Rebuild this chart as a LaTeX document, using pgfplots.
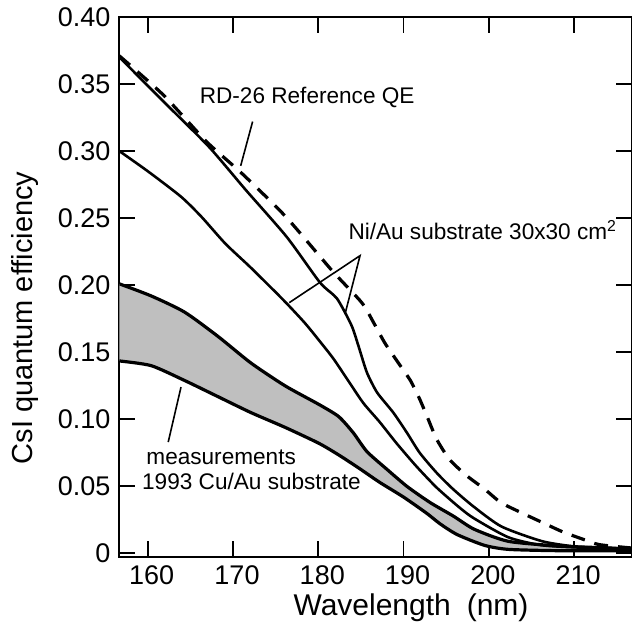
\documentclass[border=0pt]{standalone}
\usepackage{pgfplots}
\pgfplotsset{compat=1.18}
\usepgfplotslibrary{fillbetween}
\usepackage{fontspec}
\setmainfont{Liberation Sans}

\begin{document}
\begin{tikzpicture}
\begin{axis}[
    name=ax,
    scale only axis,
    width=256.4pt, height=270.3pt,
    xmin=156.67, xmax=216.8,
    ymin=-0.003, ymax=0.40,
    axis line style={line width=1pt},
    tick align=inside,
    major tick length=8pt,
    every tick/.style={black, line width=0.9pt},
    xtick={160,170,180,190,200,210},
    ytick={0,0.05,0.10,0.15,0.20,0.25,0.30,0.35,0.40},
    yticklabels={0,0.05,0.10,0.15,0.20,0.25,0.30,0.35,0.40},
    /pgf/number format/assume math mode=true,
    tick label style={font=\fontsize{13.5}{15}\selectfont},
    xticklabel style={yshift=-0.5pt, xshift=2pt},
    yticklabel style={xshift=-1pt},
    xlabel={Wavelength\hspace{8pt}(nm)},
    ylabel={CsI quantum efficiency},
    xlabel style={font=\fontsize{15}{17}\selectfont, at={(axis description cs:0.569,-0.093)}, anchor=center},
    ylabel style={font=\fontsize{14.5}{17}\selectfont, at={(axis description cs:-0.184,0.443)}, anchor=center},
]

% 1993 Cu/Au measurements, upper and lower bound
\addplot[name path=cuhi, black, line width=1.6pt, smooth, tension=0.4] coordinates {
    (156.67,0.201) (160.4,0.192) (164.3,0.180) (168.2,0.162) (172.1,0.142)
    (176.1,0.125) (180.1,0.111) (182.4,0.102) (184.1,0.090) (185.7,0.076)
    (188.0,0.063) (190.4,0.050) (193.1,0.038) (195.8,0.028) (198.3,0.018)
    (202.3,0.009) (208.3,0.0055) (214.3,0.004) (216.8,0.003)
};
\addplot[name path=culo, black, line width=1.6pt, smooth, tension=0.4] coordinates {
    (156.67,0.1435) (160.4,0.140) (164.3,0.129) (168.2,0.117) (172.1,0.105)
    (176.1,0.094) (180.1,0.082) (182.5,0.073) (184.9,0.063) (187.2,0.053)
    (190.0,0.042) (192.7,0.030) (194.3,0.022) (196.3,0.014) (199.5,0.006)
    (202.3,0.003) (208.3,0.002) (216.8,0.002)
};
\addplot[black!25] fill between[of=cuhi and culo];

% Ni/Au substrate, lower curve
\addplot[black, line width=1.3pt, smooth, tension=0.4] coordinates {
    (156.67,0.300) (160.0,0.285) (163.9,0.266) (166.3,0.251) (169.1,0.231)
    (172.1,0.213) (175.9,0.189) (178.4,0.172) (180.2,0.158) (181.8,0.145)
    (183.7,0.127) (185.3,0.112) (187.2,0.098) (189.2,0.082) (191.5,0.065)
    (193.9,0.049) (196.6,0.034) (198.3,0.026) (202.3,0.012) (206.3,0.006)
    (211.9,0.004) (216.8,0.003)
};
% Ni/Au substrate, upper curve
\addplot[black, line width=1.3pt, smooth, tension=0.4] coordinates {
    (156.67,0.370) (162.0,0.336) (167.2,0.303) (171.5,0.271) (176.3,0.236)
    (180.2,0.202) (182.2,0.190) (183.9,0.170) (184.7,0.155) (185.7,0.135)
    (186.9,0.120) (188.8,0.105) (190.4,0.090) (191.9,0.075) (193.9,0.060)
    (195.8,0.048) (198.2,0.035) (201.5,0.020) (206.3,0.009) (210.3,0.005)
    (214.3,0.004) (216.8,0.003)
};
% RD-26 reference QE
\addplot[black, line width=1.6pt, dash pattern=on 7pt off 5pt, smooth, tension=0.4] coordinates {
    (156.67,0.371) (161.8,0.342) (166.9,0.307) (171.1,0.283) (176.2,0.251)
    (181.6,0.211) (185.1,0.187) (186.5,0.172) (187.8,0.157) (189.4,0.142)
    (190.8,0.129) (191.9,0.115) (192.9,0.100) (193.9,0.085) (195.4,0.070)
    (197.4,0.058) (199.5,0.048) (201.4,0.038) (203.6,0.031) (206.3,0.023)
    (208.7,0.016) (211.3,0.010) (213.0,0.0065) (216.8,0.004)
};

% annotations
\node[font=\fontsize{11.3}{13}\selectfont] at (axis cs:178.7,0.340) {RD-26 Reference QE};
\draw[line width=0.8pt] (axis cs:172.3,0.322) -- (axis cs:170.9,0.289);

\node[font=\fontsize{11.3}{13}\selectfont, anchor=west, inner sep=0pt] at (axis cs:183.5,0.241)
    {Ni/Au substrate 30x30 cm\textsuperscript{2}};
\draw[line width=0.8pt] (axis cs:176.6,0.187) -- (axis cs:184.9,0.222) -- (axis cs:183.2,0.180);

\node[font=\fontsize{11.3}{13}\selectfont, anchor=west, inner sep=0pt] at (axis cs:159.8,0.0716) {measurements};
\node[font=\fontsize{11.3}{13}\selectfont, anchor=west, inner sep=0pt] at (axis cs:159.3,0.0537) {1993 Cu/Au substrate};
\draw[line width=0.8pt] (axis cs:163.9,0.124) -- (axis cs:162.4,0.083);
\end{axis}
\pgfresetboundingbox
\path[use as bounding box] ([xshift=-59.7pt, yshift=-36.2pt]ax.south west) rectangle ([yshift=8.5pt]ax.north east);
\end{tikzpicture}
\end{document}
